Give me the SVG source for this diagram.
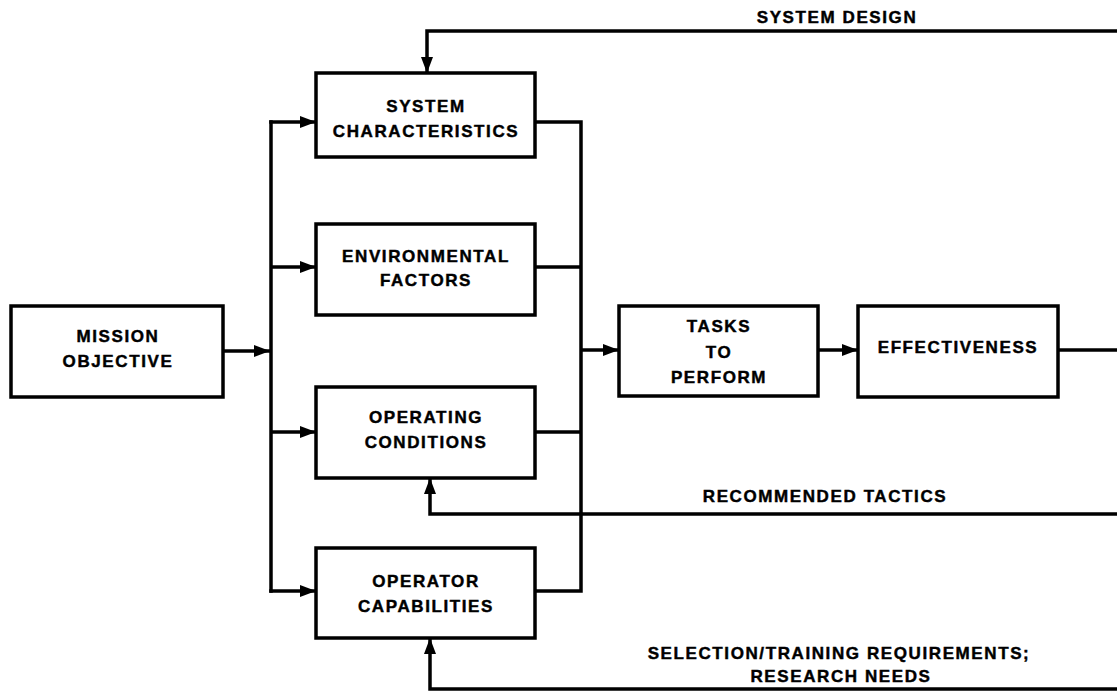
<svg xmlns="http://www.w3.org/2000/svg" width="1117" height="692" viewBox="0 0 1117 692">
  <style>
    .box { fill: #ffffff; stroke: #000000; stroke-width: 3.5; }
    .wire { fill: none; stroke: #000000; stroke-width: 3.5; stroke-linejoin: miter; stroke-linecap: butt; }
    .lbl { font-family: "Liberation Sans", Arial, Helvetica, sans-serif; font-weight: bold; font-size: 17px; letter-spacing: 1.6px; text-anchor: middle; fill: #000000; stroke: #000000; stroke-width: 0.45; }
  </style>
  <defs>
    <marker id="arrow" markerUnits="userSpaceOnUse" markerWidth="18" markerHeight="16" viewBox="0 0 18 16" refX="16" refY="8" orient="auto">
      <path d="M0,2 L16,8 L0,14 Z" fill="#000000"/>
    </marker>
  </defs>
  <rect width="1117" height="692" fill="#ffffff"/>

  <!-- connectors -->
  <g id="connectors">
    <!-- mission objective feeds the left bus -->
    <path class="wire" d="M223,351 H270" marker-end="url(#arrow)"/>
    <path class="wire" d="M271,120.25 V592.75"/>
    <path class="wire" d="M269.25,122 H316" marker-end="url(#arrow)"/>
    <path class="wire" d="M271,267 H316" marker-end="url(#arrow)"/>
    <path class="wire" d="M271,432 H316" marker-end="url(#arrow)"/>
    <path class="wire" d="M269.25,591 H316" marker-end="url(#arrow)"/>
    <!-- outputs gather on the right bus -->
    <path class="wire" d="M535,122 H581 V591 H535"/>
    <path class="wire" d="M535,267 H581"/>
    <path class="wire" d="M535,432 H581"/>
    <path class="wire" d="M581,350 H619" marker-end="url(#arrow)"/>
    <path class="wire" d="M818,350 H858" marker-end="url(#arrow)"/>
    <path class="wire" d="M1058,350 H1117"/>
    <!-- feedback loops -->
    <path class="wire" d="M1117,31 H427 V73" marker-end="url(#arrow)"/>
    <path class="wire" d="M1117,514 H430 V478" marker-end="url(#arrow)"/>
    <path class="wire" d="M1117,689 H430 V638" marker-end="url(#arrow)"/>
    <text class="lbl" x="837" y="23">SYSTEM DESIGN</text>
    <text class="lbl" x="825" y="502">RECOMMENDED TACTICS</text>
    <text class="lbl" x="839" y="659">SELECTION/TRAINING REQUIREMENTS;</text>
    <text class="lbl" x="841" y="682">RESEARCH NEEDS</text>
  </g>

  <g id="mission-objective">
    <rect class="box" x="11" y="306" width="212" height="91"/>
    <text class="lbl" x="118" y="342">MISSION</text>
    <text class="lbl" x="118" y="367">OBJECTIVE</text>
  </g>

  <g id="system-characteristics">
    <rect class="box" x="316" y="73" width="219" height="84"/>
    <text class="lbl" x="426" y="112">SYSTEM</text>
    <text class="lbl" x="426" y="137">CHARACTERISTICS</text>
  </g>

  <g id="environmental-factors">
    <rect class="box" x="316" y="224" width="219" height="91"/>
    <text class="lbl" x="426" y="262">ENVIRONMENTAL</text>
    <text class="lbl" x="426" y="286">FACTORS</text>
  </g>

  <g id="operating-conditions">
    <rect class="box" x="316" y="387" width="219" height="91"/>
    <text class="lbl" x="426" y="423">OPERATING</text>
    <text class="lbl" x="426" y="448">CONDITIONS</text>
  </g>

  <g id="operator-capabilities">
    <rect class="box" x="316" y="548" width="219" height="90"/>
    <text class="lbl" x="426" y="587">OPERATOR</text>
    <text class="lbl" x="426" y="612">CAPABILITIES</text>
  </g>

  <g id="tasks-to-perform">
    <rect class="box" x="619" y="306" width="199" height="90"/>
    <text class="lbl" x="719" y="332">TASKS</text>
    <text class="lbl" x="719" y="358">TO</text>
    <text class="lbl" x="719" y="383">PERFORM</text>
  </g>

  <g id="effectiveness">
    <rect class="box" x="858" y="306" width="200" height="91"/>
    <text class="lbl" x="958" y="353">EFFECTIVENESS</text>
  </g>
</svg>
